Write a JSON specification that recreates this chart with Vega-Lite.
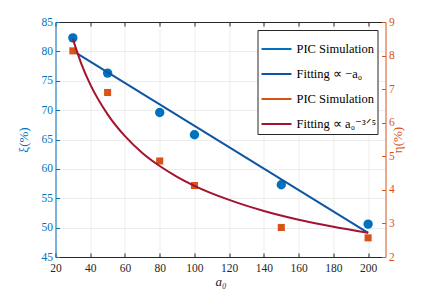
{
  "$schema": "https://vega.github.io/schema/vega-lite/v6.json",
  "width": 330,
  "height": 235,
  "autosize": {"type": "none"},
  "padding": {"left": 55.5, "top": 22, "right": 40, "bottom": 35},
  "background": "white",
  "config": {
    "font": "Liberation Serif",
    "view": {"stroke": null},
    "axis": {"labelFont": "Liberation Serif", "titleFont": "Liberation Serif", "labelFontSize": 11.5, "titleFontSize": 13, "titleFontWeight": "normal", "gridColor": "#e8e8e8", "gridWidth": 0.8, "tickSize": -4, "domainWidth": 1, "labelOverlap": false, "tickCount": 30},
    "legend": {"orient": "top-right", "offset": 8, "title": null, "strokeColor": "#262626", "fillColor": "white", "padding": 3, "labelFont": "Liberation Serif", "labelFontSize": 12.5, "labelColor": "#000000", "labelOffset": 4, "symbolStrokeWidth": 2, "symbolSize": 900, "rowPadding": 2, "cornerRadius": 0}
  },
  "data": {
    "values": [
      {"series": "A", "a0": 30, "xi": 82.3},
      {"series": "A", "a0": 50, "xi": 76.3},
      {"series": "A", "a0": 80, "xi": 69.6},
      {"series": "A", "a0": 100, "xi": 65.8},
      {"series": "A", "a0": 150, "xi": 57.3},
      {"series": "A", "a0": 200, "xi": 50.6},
      {"series": "B", "a0": 30, "xi": 80.1},
      {"series": "B", "a0": 200, "xi": 49.1},
      {"series": "C", "a0": 30, "eta": 8.14},
      {"series": "C", "a0": 50, "eta": 6.9},
      {"series": "C", "a0": 80, "eta": 4.86},
      {"series": "C", "a0": 100, "eta": 4.13},
      {"series": "C", "a0": 150, "eta": 2.88},
      {"series": "C", "a0": 200, "eta": 2.57},
      {"series": "D", "a0": 30, "eta": 8.49},
      {"series": "D", "a0": 35, "eta": 7.74},
      {"series": "D", "a0": 40, "eta": 7.14},
      {"series": "D", "a0": 50, "eta": 6.25},
      {"series": "D", "a0": 60, "eta": 5.6},
      {"series": "D", "a0": 70, "eta": 5.1},
      {"series": "D", "a0": 80, "eta": 4.71},
      {"series": "D", "a0": 90, "eta": 4.39},
      {"series": "D", "a0": 100, "eta": 4.12},
      {"series": "D", "a0": 120, "eta": 3.7},
      {"series": "D", "a0": 140, "eta": 3.37},
      {"series": "D", "a0": 160, "eta": 3.11},
      {"series": "D", "a0": 180, "eta": 2.9},
      {"series": "D", "a0": 200, "eta": 2.72}
    ]
  },
  "layer": [
    {
      "layer": [
        {
          "transform": [{"filter": "datum.series === 'A'"}],
          "mark": {"type": "point", "filled": true, "opacity": 1, "size": 88, "shape": "circle"},
          "encoding": {
            "x": {"field": "a0", "type": "quantitative", "scale": {"domain": [20, 210], "nice": false}, "axis": {"values": [20,40,60,80,100,120,140,160,180,200], "tickCount": 30, "labelOverlap": false, "title": "a₀", "titleFontStyle": "italic", "titleColor": "#262626", "labelColor": "#262626", "domainColor": "#262626", "tickColor": "#262626", "labelPadding": 9, "titlePadding": 2, "labelFlush": false}},
            "y": {"field": "xi", "type": "quantitative", "scale": {"domain": [45, 85], "nice": false, "zero": false}, "axis": {"values": [45,50,55,60,65,70,75,80,85], "tickCount": 30, "labelOverlap": false, "title": "ξ(%)", "titleColor": "#0072BD", "labelColor": "#0072BD", "domainColor": "#0072BD", "tickColor": "#0072BD", "labelPadding": 7, "titlePadding": 11}},
            "color": {"field": "series", "type": "nominal", "scale": {"domain": ["A","B","C","D"], "range": ["#0072BD", "#0E56A3", "#D95319", "#A2142F"]}, "legend": {"orient": "top-right", "symbolType": "stroke", "labelExpr": "datum.value === 'A' || datum.value === 'C' ? 'PIC Simulation' : datum.value === 'B' ? 'Fitting ∝ −a₀' : 'Fitting ∝ a₀⁻³ᐟ⁵'"}}
          }
        },
        {
          "transform": [{"filter": "datum.series === 'B'"}],
          "mark": {"type": "line", "strokeWidth": 2},
          "encoding": {
            "x": {"field": "a0", "type": "quantitative"},
            "y": {"field": "xi", "type": "quantitative"},
            "color": {"field": "series", "type": "nominal"}
          }
        }
      ]
    },
    {
      "layer": [
        {
          "transform": [{"filter": "datum.series === 'C'"}],
          "mark": {"type": "point", "filled": true, "opacity": 1, "size": 50, "shape": "square"},
          "encoding": {
            "x": {"field": "a0", "type": "quantitative", "axis": {"orient": "top", "values": [20,40,60,80,100,120,140,160,180,200], "tickCount": 30, "labels": false, "title": null, "grid": false, "domainColor": "#262626", "tickColor": "#262626"}},
            "y": {"field": "eta", "type": "quantitative", "scale": {"domain": [2, 9], "nice": false, "zero": false}, "axis": {"orient": "right", "values": [2,3,4,5,6,7,8,9], "format": "d", "tickCount": 30, "labelOverlap": false, "grid": false, "title": "η(%)", "titleAngle": 270, "titleColor": "#D95319", "labelColor": "#D95319", "domainColor": "#D95319", "tickColor": "#D95319", "labelPadding": 7, "titlePadding": 10}},
            "color": {"field": "series", "type": "nominal"}
          }
        },
        {
          "transform": [{"filter": "datum.series === 'D'"}],
          "mark": {"type": "line", "strokeWidth": 2, "interpolate": "monotone"},
          "encoding": {
            "x": {"field": "a0", "type": "quantitative"},
            "y": {"field": "eta", "type": "quantitative"},
            "color": {"field": "series", "type": "nominal"}
          }
        }
      ]
    }
  ],
  "resolve": {"scale": {"y": "independent"}, "axis": {"x": "independent", "y": "independent"}}
}
